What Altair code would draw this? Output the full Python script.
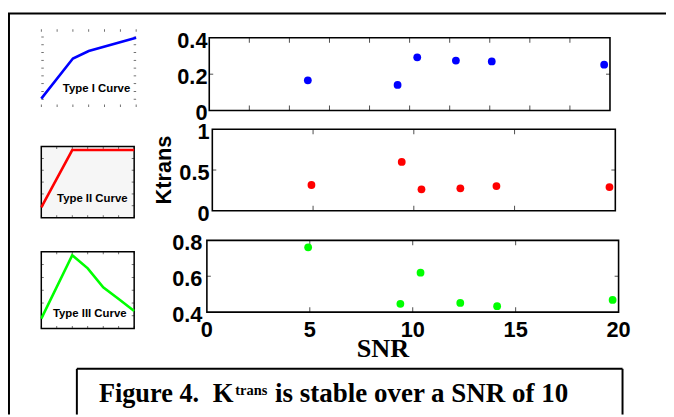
import altair as alt
import pandas as pd

# ---------------- data ----------------
snr = [4.92, 9.40, 10.38, 12.31, 14.10, 19.71]
ktrans_type1 = [0.166, 0.141, 0.293, 0.275, 0.270, 0.252]
ktrans_type2 = [0.316, 0.600, 0.263, 0.275, 0.303, 0.291]
ktrans_type3 = [0.761, 0.446, 0.620, 0.451, 0.433, 0.468]

panel_y_domains = [[0, 0.4], [0, 1], [0.4, 0.8]]
panel_y_ticks = [[0, 0.2, 0.4], [0, 0.5, 1], [0.4, 0.6, 0.8]]
panel_y_labels = [["0", "0.2", "0.4"], ["0", "0.5", "1"], ["0.4", "0.6", "0.8"]]
panel_x_ticks = [[0, 2, 4, 6, 8, 10, 12, 14, 16, 18, 20],
                 [0, 5, 10, 15, 20],
                 [0, 5, 10, 15, 20]]
snr_ticks = [0, 5, 10, 15, 20]
snr_labels = ["0", "5", "10", "15", "20"]

curve_t = [[0, 2, 3, 6], [0, 2, 6], [0, 2, 3, 4, 5, 6]]
curve_v = [[0.107, 0.623, 0.72, 0.889],
           [0.144, 0.95, 0.95],
           [0.129, 0.956, 0.785, 0.537, 0.386, 0.228]]
curve_names = ["Type I Curve", "Type II Curve", "Type III Curve"]
thumb_x_ticks = [0, 1, 2, 3, 4, 5, 6]
thumb_y_ticks = [[0.1, 0.2, 0.3, 0.4, 0.5, 0.6, 0.7, 0.8, 0.9],
                 [0.167, 0.333, 0.5, 0.667, 0.833],
                 [0.167, 0.333, 0.5, 0.667, 0.833]]

y_title = ["Ktrans"]
x_title = ["SNR"]
caption_parts = ["Figure 4.", "K", "trans", "is stable over a SNR of 10"]

# ---------------- layout / style ----------------
W, H = 666, 409
colors = ["#0000ff", "#ff0000", "#00ff00"]
SANS = "Liberation Sans"
SERIF = "Liberation Serif"
TICK_FS = 22

panel_boxes = [(203.7, 609.3, 27.7, 101.3),
               (206.8, 614.7, 120.3, 202.7),
               (201.3, 618.0, 232.7, 305.3)]
label_pad = [1.8, 2.8, 4.5]
thumb_boxes = [(33.7, 129.7, 19.0, 97.7),
               (33.7, 127.7, 137.7, 209.7),
               (33.7, 127.7, 244.3, 322.0)]
thumb_fill = ["white", "#f6f6f6", "white"]
thumb_stroke = ["white", "black", "black"]
thumb_text_pos = [(123.7, 83.0), (121.0, 193.7), (120.0, 310.3)]

kvals = [ktrans_type1, ktrans_type2, ktrans_type3]
one = pd.DataFrame({"a": [0]})


def panel(i):
    x0, x1, yt, yb = panel_boxes[i]
    dom = panel_y_domains[i]
    xs = alt.Scale(domain=[0, 20], range=[x0, x1], nice=False, zero=False)
    ys = alt.Scale(domain=dom, range=[yb, yt], nice=False, zero=False)

    frame = alt.Chart(one).mark_rect(filled=False, stroke="black", strokeWidth=1.6).encode(
        x=alt.X(datum=0, type="quantitative", scale=xs, axis=None),
        x2=alt.X2(datum=20),
        y=alt.Y(datum=dom[0], type="quantitative", scale=ys, axis=None),
        y2=alt.Y2(datum=dom[1]),
    )
    inner_x = pd.DataFrame({"t": panel_x_ticks[i][1:-1]})
    inner_y = pd.DataFrame({"t": panel_y_ticks[i][1:-1]})
    tick_style = dict(color="black", thickness=1)
    top_t = alt.Chart(inner_x).mark_tick(orient="vertical", size=5, yOffset=2.5, **tick_style).encode(
        x=alt.X("t:Q", scale=xs, axis=None),
        y=alt.Y(datum=dom[1], type="quantitative", scale=ys, axis=None))
    bot_t = alt.Chart(inner_x).mark_tick(orient="vertical", size=5, yOffset=-2.5, **tick_style).encode(
        x=alt.X("t:Q", scale=xs, axis=None),
        y=alt.Y(datum=dom[0], type="quantitative", scale=ys, axis=None))
    left_t = alt.Chart(inner_y).mark_tick(orient="horizontal", size=4, xOffset=2, **tick_style).encode(
        x=alt.X(datum=0, type="quantitative", scale=xs, axis=None),
        y=alt.Y("t:Q", scale=ys, axis=None))
    right_t = alt.Chart(inner_y).mark_tick(orient="horizontal", size=4, xOffset=-2, **tick_style).encode(
        x=alt.X(datum=20, type="quantitative", scale=xs, axis=None),
        y=alt.Y("t:Q", scale=ys, axis=None))

    ylab_df = pd.DataFrame({"t": panel_y_ticks[i], "lab": panel_y_labels[i]})
    ylabs = alt.Chart(ylab_df).mark_text(
        font=SANS, fontSize=TICK_FS, fontWeight="bold", color="black",
        align="right", baseline="middle", dx=-label_pad[i], dy=3).encode(
        x=alt.X(datum=0, type="quantitative", scale=xs, axis=None),
        y=alt.Y("t:Q", scale=ys, axis=None),
        text="lab:N")
    layers = [frame, top_t, bot_t, left_t, right_t, ylabs]
    if i == 2:
        xlab_df = pd.DataFrame({"t": snr_ticks, "lab": snr_labels})
        xlabs = alt.Chart(xlab_df).mark_text(
            font=SANS, fontSize=TICK_FS, fontWeight="bold", color="black",
            align="center", baseline="top", dy=8.5).encode(
            x=alt.X("t:Q", scale=xs, axis=None),
            y=alt.Y(datum=dom[0], type="quantitative", scale=ys, axis=None),
            text="lab:N")
        layers.append(xlabs)

    df = pd.DataFrame({"snr": snr, "k": kvals[i]})
    pts = alt.Chart(df).mark_circle(size=62, opacity=1, color=colors[i]).encode(
        x=alt.X("snr:Q", scale=xs, axis=None),
        y=alt.Y("k:Q", scale=ys, axis=None),
    )
    layers.append(pts)
    return alt.layer(*layers)


def thumb(i):
    x0, x1, yt, yb = thumb_boxes[i]
    xs = alt.Scale(domain=[0, 6], range=[x0, x1], nice=False, zero=False)
    ys = alt.Scale(domain=[0, 1], range=[yb, yt], nice=False, zero=False)
    frame = alt.Chart(one).mark_rect(fill=thumb_fill[i], stroke=thumb_stroke[i], strokeWidth=1.5).encode(
        x=alt.X(datum=0, type="quantitative", scale=xs, axis=None),
        x2=alt.X2(datum=6),
        y=alt.Y(datum=0, type="quantitative", scale=ys, axis=None),
        y2=alt.Y2(datum=1),
    )
    tx = pd.DataFrame({"t": thumb_x_ticks})
    ty = pd.DataFrame({"t": thumb_y_ticks[i]})
    ts = dict(color="black", thickness=0.8)
    top_t = alt.Chart(tx).mark_tick(orient="vertical", size=2.5, yOffset=1.25, **ts).encode(
        x=alt.X("t:Q", scale=xs, axis=None),
        y=alt.Y(datum=1, type="quantitative", scale=ys, axis=None))
    bot_t = alt.Chart(tx).mark_tick(orient="vertical", size=2.5, yOffset=-1.25, **ts).encode(
        x=alt.X("t:Q", scale=xs, axis=None),
        y=alt.Y(datum=0, type="quantitative", scale=ys, axis=None))
    left_t = alt.Chart(ty).mark_tick(orient="horizontal", size=2.5, xOffset=1.25, **ts).encode(
        x=alt.X(datum=0, type="quantitative", scale=xs, axis=None),
        y=alt.Y("t:Q", scale=ys, axis=None))
    right_t = alt.Chart(ty).mark_tick(orient="horizontal", size=2.5, xOffset=-1.25, **ts).encode(
        x=alt.X(datum=6, type="quantitative", scale=xs, axis=None),
        y=alt.Y("t:Q", scale=ys, axis=None))
    df = pd.DataFrame({"t": curve_t[i], "v": curve_v[i]})
    line = alt.Chart(df).mark_line(color=colors[i], strokeWidth=2.6).encode(
        x=alt.X("t:Q", scale=xs, axis=None),
        y=alt.Y("v:Q", scale=ys, axis=None),
    )
    tpx, tpy = thumb_text_pos[i]
    label = alt.Chart(pd.DataFrame({"name": [curve_names[i]]})).mark_text(
        font=SANS, fontSize=11.5, fontWeight="bold", color="black",
        align="right", baseline="alphabetic").encode(
        text="name:N", x=alt.value(tpx), y=alt.value(tpy))
    return alt.layer(frame, top_t, bot_t, left_t, right_t, line, label)


def rule(**enc):
    return alt.Chart(one).mark_rule(color="black", strokeWidth=2).encode(**{k: alt.value(v) for k, v in enc.items()})


decor = [
    rule(x=1, y=3, y2=H),            # outer frame left
    rule(x=0, x2=W, y=3),            # outer frame top
    rule(x=69.7, x2=622, y=362.7),   # caption box top
    rule(x=69.7, y=362.7, y2=H),     # caption box left
    rule(x=622, y=362.7, y2=H),      # caption box right
]

ktitle = alt.Chart(pd.DataFrame({"s": y_title})).mark_text(
    font=SANS, fontSize=22, fontWeight="bold", color="black", angle=270,
    align="center", baseline="alphabetic").encode(
    text="s:N", x=alt.value(164.7), y=alt.value(161.5))
stitle = alt.Chart(pd.DataFrame({"s": x_title})).mark_text(
    font=SERIF, fontSize=26.5, fontWeight="bold", color="black",
    align="center", baseline="alphabetic").encode(
    text="s:N", x=alt.value(379.5), y=alt.value(350.5))

cap_pos = [(92, 396.5, 26.6), (207.3, 396.5, 27.0), (230.0, 389, 14.6), (270.3, 396.5, 27.3)]
caps = []
for part, (cx, cy, fs) in zip(caption_parts, cap_pos):
    caps.append(alt.Chart(pd.DataFrame({"s": [part]})).mark_text(
        font=SERIF, fontSize=fs, fontWeight="bold", color="black",
        align="left", baseline="alphabetic").encode(
        text="s:N", x=alt.value(cx), y=alt.value(cy)))

layers = decor + [thumb(0), thumb(1), thumb(2), panel(0), panel(1), panel(2), ktitle, stitle] + caps

chart = alt.layer(*layers).resolve_scale(
    x="independent", y="independent"
).properties(
    width=W, height=H, padding=0,
    autosize=alt.AutoSizeParams(type="none"),
).configure_view(strokeWidth=0)

chart.save("out.html", embed_options={"renderer": "svg", "actions": False})
